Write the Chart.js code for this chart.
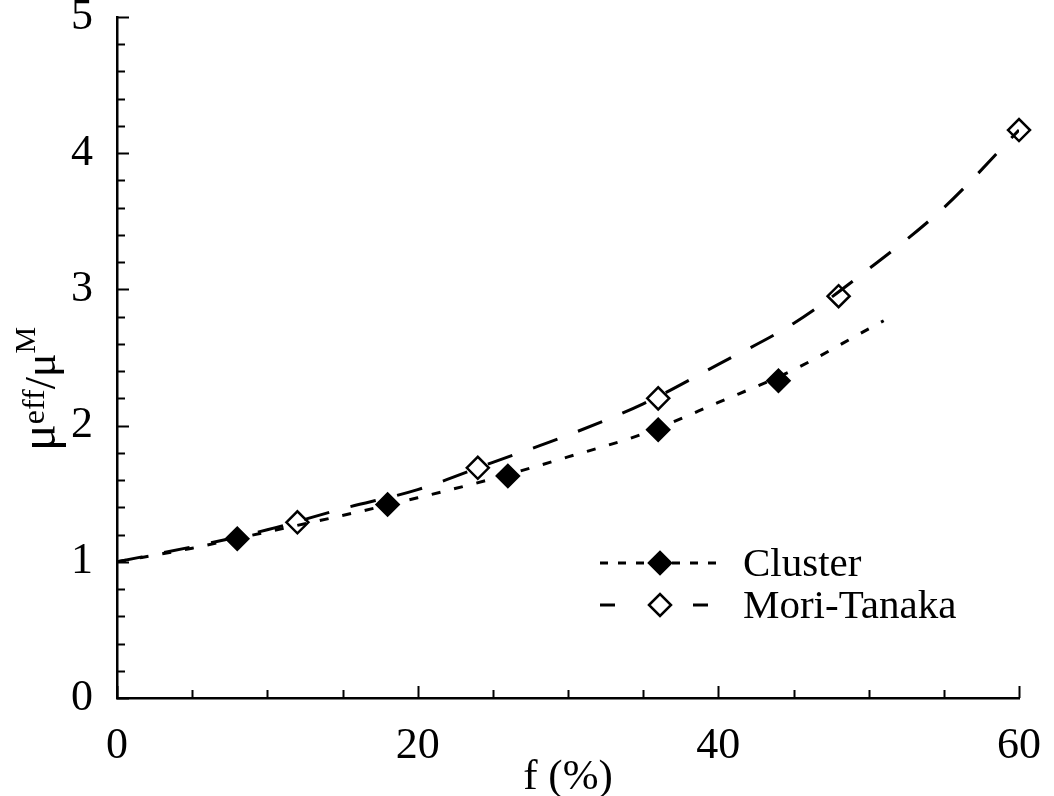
<!DOCTYPE html>
<html><head><meta charset="utf-8">
<script src="https://cdn.jsdelivr.net/npm/chart.js@4.4.0/dist/chart.umd.min.js"></script>
<style>html,body{margin:0;padding:0;background:#fff}#wrap{width:1054px;height:796px;position:relative}</style>
</head><body><div id="wrap"><canvas id="c" width="1054" height="796"></canvas></div>
<script>
// ---- data ----
const xTickLabels = [0, 20, 40, 60];
const yTickLabels = [0, 1, 2, 3, 4, 5];
const seriesNames = ['Cluster', 'Mori-Tanaka'];
const clusterX = [8, 18, 26, 36, 44];
const clusterY = [1.17, 1.42, 1.63, 1.97, 2.33];
const moriX = [12, 24, 36, 48, 60];
const moriY = [1.29, 1.69, 2.20, 2.95, 4.17];
const clusterCurveX = [0, 5, 10, 15, 20, 25, 30, 35, 40, 45, 50, 51];
const clusterCurveY = [1.00, 1.10, 1.22, 1.34, 1.47, 1.61, 1.77, 1.94, 2.17, 2.41, 2.71, 2.77];
const moriCurveX = [0, 5, 10, 15, 20, 25, 30, 35, 40, 45, 50, 55, 60];
const moriCurveY = [1.00, 1.11, 1.235, 1.39, 1.53, 1.73, 1.93, 2.16, 2.45, 2.75, 3.15, 3.60, 4.17];
const xTitle = 'f (%)';
const yTitleParts = ['μ', 'eff', '/', 'μ', 'M'];

const SERIF = '"Liberation Serif", "Times New Roman", serif';
const pts = (xs, ys) => xs.map((x, i) => ({x, y: ys[i]}));

const CLUSTER_DASH = [9, 14];
const MORI_DASH = [26, 22];

const decorPlugin = {
  id: 'decor',
  afterDraw(chart) {
    const {ctx, chartArea: a, scales: {x, y}} = chart;
    ctx.save();
    // inward ticks
    ctx.strokeStyle = '#000';
    ctx.lineWidth = 2;
    ctx.setLineDash([]);
    const xMinor = 5, yMinor = 0.2;
    for (let v = x.min; v <= x.max + 1e-9; v += xMinor) {
      const px = Math.round(x.getPixelForValue(v)) + 0.5;
      const len = xTickLabels.includes(Math.round(v)) ? 12 : 8;
      ctx.beginPath(); ctx.moveTo(px, a.bottom); ctx.lineTo(px, a.bottom - len); ctx.stroke();
    }
    for (let i = 0; i <= Math.round((y.max - y.min) / yMinor); i++) {
      const v = y.min + i * yMinor;
      const py = Math.round(y.getPixelForValue(v)) + 0.5;
      const len = (i % 5 === 0) ? 12 : 8;
      ctx.beginPath(); ctx.moveTo(a.left, py); ctx.lineTo(a.left + len, py); ctx.stroke();
    }

    // legend
    const rows = [
      {name: seriesNames[0], y: 563, filled: true},
      {name: seriesNames[1], y: 605, filled: false}
    ];
    rows.forEach(r => {
      ctx.strokeStyle = '#000';
      ctx.lineWidth = 3;
      if (r.filled) {
        ctx.setLineDash([8, 10]);
        ctx.beginPath(); ctx.moveTo(600, r.y); ctx.lineTo(718, r.y); ctx.stroke();
      } else {
        ctx.setLineDash([]);
        ctx.beginPath(); ctx.moveTo(600, r.y); ctx.lineTo(615, r.y); ctx.stroke();
        ctx.beginPath(); ctx.moveTo(693, r.y); ctx.lineTo(708, r.y); ctx.stroke();
      }
      ctx.setLineDash([]);
      ctx.fillStyle = r.filled ? '#000' : '#fff';
      ctx.lineWidth = 2.5;
      Chart.helpers.drawPoint(ctx, {pointStyle: 'rectRot', radius: 11, rotation: 0, borderWidth: 2.5}, 660, r.y);
      ctx.fillStyle = '#000';
      ctx.font = '41px ' + SERIF;
      ctx.textAlign = 'left';
      ctx.textBaseline = 'alphabetic';
      ctx.fillText(r.name, 743, r.y + 13);
    });

    // y-axis title with superscripts
    const sizes = [50, 32, 44, 44, 30];
    const rises = [0, 11, 0, 0, 20];
    ctx.translate(55, 451);
    ctx.rotate(-Math.PI / 2);
    ctx.textAlign = 'left';
    ctx.textBaseline = 'alphabetic';
    let cx = 0;
    yTitleParts.forEach((t, i) => {
      ctx.font = sizes[i] + 'px ' + SERIF;
      ctx.fillText(t, cx, -rises[i]);
      cx += ctx.measureText(t).width;
    });
    ctx.restore();
  }
};

new Chart(document.getElementById('c'), {
  type: 'scatter',
  data: {
    datasets: [
      {
        label: seriesNames[0] + ' curve',
        data: pts(clusterCurveX, clusterCurveY),
        showLine: true, pointRadius: 0, borderColor: '#000', borderWidth: 3,
        borderDash: CLUSTER_DASH, cubicInterpolationMode: 'monotone', fill: false
      },
      {
        label: seriesNames[1] + ' curve',
        data: pts(moriCurveX, moriCurveY),
        showLine: true, pointRadius: 0, borderColor: '#000', borderWidth: 3,
        borderDash: MORI_DASH, cubicInterpolationMode: 'monotone', fill: false
      },
      {
        label: seriesNames[0],
        data: pts(clusterX, clusterY),
        showLine: false, pointStyle: 'rectRot', pointRadius: 11,
        backgroundColor: '#000', borderColor: '#000', borderWidth: 2.5, clip: false
      },
      {
        label: seriesNames[1],
        data: pts(moriX, moriY),
        showLine: false, pointStyle: 'rectRot', pointRadius: 11,
        backgroundColor: '#fff', borderColor: '#000', borderWidth: 2.5, clip: false
      }
    ]
  },
  options: {
    responsive: false,
    animation: false,
    layout: {padding: {left: 0, right: 35, top: 17, bottom: 0}},
    plugins: {legend: {display: false}, tooltip: {enabled: false}},
    scales: {
      x: {
        type: 'linear', min: 0, max: 60,
        grid: {display: false},
        border: {display: true, color: '#000', width: 2.5},
        ticks: {
          stepSize: 20, autoSkip: false, maxRotation: 0, padding: 14, color: '#000',
          font: {family: SERIF, size: 44},
          callback: v => xTickLabels.includes(v) ? String(v) : ''
        },
        title: {display: true, text: xTitle, color: '#000', padding: 0,
                font: {family: SERIF, size: 43, lineHeight: 0.85}},
        afterFit(s) { s.height = 98; s.paddingLeft = 0; s.paddingRight = 0; }
      },
      y: {
        type: 'linear', min: 0, max: 5,
        grid: {display: false},
        border: {display: true, color: '#000', width: 2.5},
        ticks: {
          stepSize: 1, autoSkip: false, padding: 16, color: '#000',
          font: {family: SERIF, size: 44},
          callback: v => yTickLabels.includes(v) ? String(v) : ''
        },
        afterFit(s) { s.width = 117; s.paddingTop = 0; s.paddingBottom = 0; }
      }
    }
  },
  plugins: [decorPlugin]
});
</script>
</body></html>
